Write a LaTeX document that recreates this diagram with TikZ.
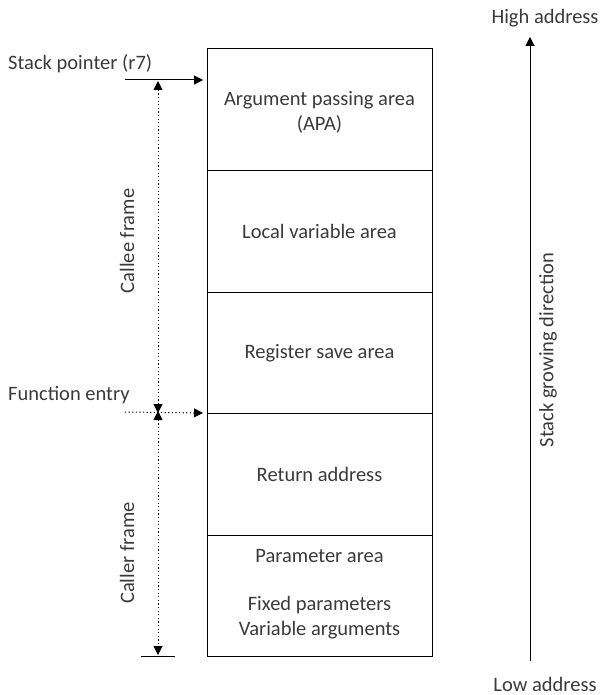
\documentclass[tikz,border=0pt]{standalone}
\usepackage{fontspec}
\setmainfont{Carlito}
\usetikzlibrary{arrows.meta}
\definecolor{txt}{HTML}{3A3A3A}
\begin{document}
\begin{tikzpicture}[x=1pt,y=-1pt,
  lbl/.style={text=txt,font=\fontsize{20.5}{25}\selectfont,inner sep=0pt},
  cell/.style={draw,line width=1pt,minimum width=225pt,anchor=north west,inner sep=0pt},
  tri/.tip={Triangle[length=9pt,width=9pt]},
  tip/.style={-tri},
  dots/.style={dash pattern=on 1.2pt off 2.4pt,line width=1pt}]
\useasboundingbox (0,0) rectangle (601,695);
% stack cells
\node[cell,minimum height=122pt] (apa) at (207,48) {};
\node[cell,minimum height=122pt] (lva) at (207,170) {};
\node[cell,minimum height=121pt] (rsa) at (207,292) {};
\node[cell,minimum height=122pt] (ra) at (207,413) {};
\node[cell,minimum height=121pt] (pa) at (207,535) {};
\node[lbl,align=center] at (319.5,112) {Argument passing area\\(APA)};
\node[lbl] at (319.5,231) {Local variable area};
\node[lbl] at (319.5,353) {Register save area};
\node[lbl] at (319.5,474) {Return address};
\node[lbl] at (319.5,556) {Parameter area};
\node[lbl,align=center] at (319.5,618) {Fixed parameters\\Variable arguments};
% left side labels
\node[lbl,anchor=west] (sp) at (8,64) {Stack pointer (r7)};
\node[lbl,anchor=west] (fe) at (8,395) {Function entry};
\coordinate (spL) at (125,80);
\coordinate (feL) at (125,412);
\draw[tip,line width=1pt] (spL) -- ([xshift=-4pt]apa.north west |- spL);
\draw[tip,dots] (feL) -- ([xshift=-4pt]ra.north west);
% frame extents
\coordinate (top) at (158,81);
\coordinate (mid) at (158,412);
\coordinate (bot) at (158,655);
\draw[dots,tri-tri] (top) -- ([yshift=-1pt]mid);
\draw[dots,tri-tri] ([yshift=1pt]mid) -- (bot);
\coordinate (b1) at (141,656);
\coordinate (b2) at (175,656);
\draw[line width=1pt] (b1) -- (b2);
\node[lbl,rotate=90] (callee) at (127,241) {Callee frame};
\node[lbl,rotate=90] (caller) at (127,553) {Caller frame};
% direction arrow
\node[lbl] (hi) at (545,18) {High address};
\node[lbl] (lo) at (545,684) {Low address};
\coordinate (dL) at (530,661);
\coordinate (dH) at (530,37);
\draw[tip,line width=1pt] (dL) -- (dH);
\node[lbl,rotate=90] (sgd) at (548,350) {Stack growing direction};
\end{tikzpicture}
\end{document}
